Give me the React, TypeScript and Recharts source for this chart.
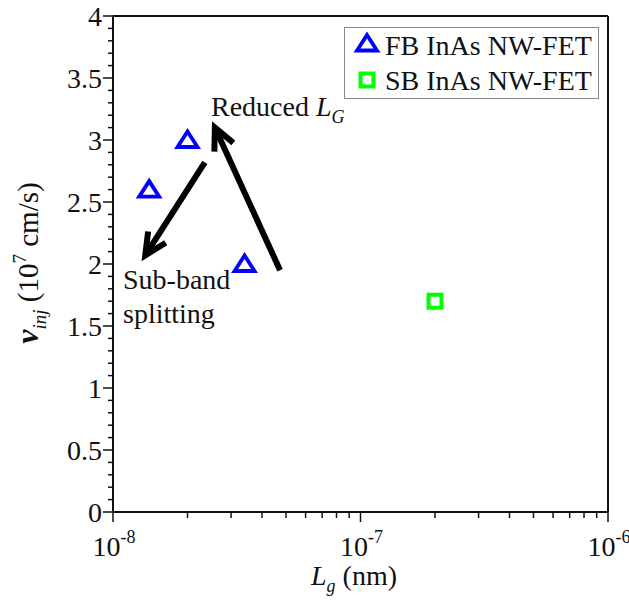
import React from 'react';
import { ScatterChart, Scatter, XAxis, YAxis, ReferenceLine, Legend } from 'recharts';

// gate length (m) and injection velocity (1e7 cm/s)
const fbLength = [1.4e-8, 2.0e-8, 3.4e-8];
const fbVinj = [2.6, 3.0, 2.0];
const sbLength = [2.0e-7];
const sbVinj = [1.7];

const xDecades = [1e-8, 1e-7, 1e-6];
const xExponents = ['-8', '-7', '-6'];
const xMinor = [2, 3, 4, 5, 6, 7, 8, 9];
const yMajor = [0, 0.5, 1, 1.5, 2, 2.5, 3, 3.5, 4];

// arrow annotations, in data units
const arrowFromX = [2.35e-8, 4.73e-8];
const arrowFromY = [2.82, 1.95];
const arrowToX = [1.35e-8, 2.58e-8];
const arrowToY = [2.07, 3.1];

const fbData = fbLength.map((x, i) => ({ x, y: fbVinj[i] }));
const sbData = sbLength.map((x, i) => ({ x, y: sbVinj[i] }));
const xTicks = [
  ...xDecades,
  ...xMinor.map((m) => m * 1e-8),
  ...xMinor.map((m) => m * 1e-7),
];
const yTicks = Array.from({ length: 41 }, (_, i) => i / 10);

const FONT = '"Liberation Serif", "Times New Roman", serif';
const BLUE = '#0000ff';
const GREEN = '#00ff00';
const AXIS = '#111';

const isDecade = (v: number) => xDecades.some((d) => Math.abs(d - v) / d < 1e-6);
const isYMajor = (v: number) => yMajor.some((m) => Math.abs(m - v) < 1e-6);

const Triangle = ({ cx, cy }: any) => (
  <path
    d={`M${cx},${cy - 8.5} L${cx + 10},${cy + 7} L${cx - 10},${cy + 7} Z`}
    fill="none"
    stroke={BLUE}
    strokeWidth={3.8}
  />
);

const Square = ({ cx, cy }: any) => (
  <rect x={cx - 6.5} y={cy - 6.5} width={13} height={13} fill="none" stroke={GREEN} strokeWidth={4} />
);

const BottomTick = ({ x, y, payload }: any) => {
  const major = isDecade(payload.value);
  const idx = xDecades.findIndex((d) => Math.abs(d - payload.value) / d < 1e-6);
  return (
    <g>
      <line x1={x} y1={y} x2={x} y2={y + (major ? 10 : 6)} stroke={AXIS} strokeWidth={1.5} />
      {major && (
        <text x={x + 1} y={y + 44} textAnchor="middle" fontSize={28} fontFamily={FONT} fill="#111">
          10
          <tspan fontSize={18} dy={-13}>
            {xExponents[idx]}
          </tspan>
        </text>
      )}
    </g>
  );
};

const TopTick = ({ x, y, payload }: any) => {
  const major = isDecade(payload.value);
  return <line x1={x} y1={y} x2={x} y2={y - (major ? 10 : 5)} stroke={AXIS} strokeWidth={1.5} />;
};

const LeftTick = ({ x, y, payload }: any) => {
  const major = isYMajor(payload.value);
  return (
    <g>
      <line x1={x} y1={y} x2={x - (major ? 10 : 5)} y2={y} stroke={AXIS} strokeWidth={1.5} />
      {major && (
        <text x={x - 11} y={y} dy="0.35em" textAnchor="end" fontSize={28} fontFamily={FONT} fill="#111">
          {String(payload.value)}
        </text>
      )}
    </g>
  );
};

const RightTick = ({ x, y, payload }: any) => {
  const major = isYMajor(payload.value);
  return <line x1={x} y1={y} x2={x + (major ? 10 : 5)} y2={y} stroke={AXIS} strokeWidth={1.5} />;
};

const Arrow = ({ x1, y1, x2, y2 }: any) => {
  const ang = Math.atan2(y2 - y1, x2 - x1);
  const len = 24;
  const spread = 0.45;
  const ax = x2 - len * Math.cos(ang - spread);
  const ay = y2 - len * Math.sin(ang - spread);
  const bx = x2 - len * Math.cos(ang + spread);
  const by = y2 - len * Math.sin(ang + spread);
  return (
    <g>
      <line x1={x1} y1={y1} x2={x2} y2={y2} stroke="#000" strokeWidth={6} />
      <polyline points={`${ax},${ay} ${x2},${y2} ${bx},${by}`} fill="none" stroke="#000" strokeWidth={6} />
    </g>
  );
};

const LegendBox = () => (
  <svg width={255} height={72} style={{ display: 'block' }}>
    <rect x={0.5} y={0.5} width={254} height={71} fill="#fff" stroke="#888" strokeWidth={1} />
    <Triangle cx={23} cy={16.5} />
    <text x={41} y={28} fontSize={28} fontFamily={FONT} fill="#111">
      FB InAs NW-FET
    </text>
    <Square cx={23} cy={53} />
    <text x={41} y={63} fontSize={28} fontFamily={FONT} fill="#111">
      SB InAs NW-FET
    </text>
  </svg>
);

export default function App() {
  return (
    <div style={{ position: 'absolute', left: 0, top: 0 }}>
      <ScatterChart width={629} height={603} margin={{ top: 15, right: 20, bottom: 90, left: 112 }}>
        <XAxis
          xAxisId="bottom"
          dataKey="x"
          type="number"
          scale="log"
          domain={[1e-8, 1e-6]}
          allowDataOverflow
          ticks={xTicks}
          interval={0}
          height={1}
          tickSize={0}
          tickMargin={0}
          tickLine={false}
          tick={<BottomTick />}
          axisLine={{ stroke: AXIS, strokeWidth: 2 }}
        />
        <XAxis
          xAxisId="top"
          orientation="top"
          type="number"
          scale="log"
          domain={[1e-8, 1e-6]}
          allowDataOverflow
          ticks={xTicks}
          interval={0}
          height={1}
          tickSize={0}
          tickMargin={0}
          tickLine={false}
          tick={<TopTick />}
          axisLine={{ stroke: AXIS, strokeWidth: 2 }}
        />
        <YAxis
          yAxisId="left"
          dataKey="y"
          type="number"
          domain={[0, 4]}
          ticks={yTicks}
          interval={0}
          width={1}
          tickSize={0}
          tickMargin={0}
          tickLine={false}
          tick={<LeftTick />}
          axisLine={{ stroke: AXIS, strokeWidth: 2 }}
        />
        <YAxis
          yAxisId="right"
          orientation="right"
          type="number"
          domain={[0, 4]}
          ticks={yTicks}
          interval={0}
          width={1}
          tickSize={0}
          tickMargin={0}
          tickLine={false}
          tick={<RightTick />}
          axisLine={{ stroke: AXIS, strokeWidth: 2 }}
        />
        {arrowFromX.map((fx, i) => (
          <ReferenceLine
            key={`arrow-${i}`}
            xAxisId="bottom"
            yAxisId="left"
            segment={[
              { x: fx, y: arrowFromY[i] },
              { x: arrowToX[i], y: arrowToY[i] },
            ]}
            ifOverflow="visible"
            shape={(p: any) => <Arrow {...p} />}
          />
        ))}
        <Scatter
          name="FB InAs NW-FET"
          data={fbData}
          xAxisId="bottom"
          yAxisId="left"
          shape={(p: any) => <Triangle {...p} />}
          isAnimationActive={false}
        />
        <Scatter
          name="SB InAs NW-FET"
          data={sbData}
          xAxisId="bottom"
          yAxisId="left"
          shape={(p: any) => <Square {...p} />}
          isAnimationActive={false}
        />
        <Legend
          layout="vertical"
          align="center"
          verticalAlign="middle"
          wrapperStyle={{ left: 344, top: 27, width: 255, height: 72 }}
          content={() => <LegendBox />}
        />
        <text x={211} y={116} fontSize={28} fontFamily={FONT} fill="#111">
          Reduced{' '}
          <tspan fontStyle="italic">L</tspan>
          <tspan fontStyle="italic" fontSize={18} dy={7}>
            G
          </tspan>
        </text>
        <text x={123} y={289} fontSize={28} fontFamily={FONT} fill="#111">
          Sub-band
        </text>
        <text x={123} y={323} fontSize={28} fontFamily={FONT} fill="#111">
          splitting
        </text>
        <text transform="translate(38,263) rotate(-90)" textAnchor="middle" fontSize={29} fontFamily={FONT} fill="#111">
          <tspan fontStyle="italic" fontWeight="bold" fontSize={32}>
            v
          </tspan>
          <tspan fontStyle="italic" fontSize={19} dy={8}>
            inj
          </tspan>
          <tspan dy={-8}>{' (10'}</tspan>
          <tspan fontSize={19} dy={-12}>
            7
          </tspan>
          <tspan dy={12}>{' cm/s)'}</tspan>
        </text>
        <text x={354} y={585} textAnchor="middle" fontSize={28} fontFamily={FONT} fill="#111">
          <tspan fontStyle="italic">L</tspan>
          <tspan fontStyle="italic" fontSize={18} dy={7}>
            g
          </tspan>
          <tspan dy={-7}>{' (nm)'}</tspan>
        </text>
      </ScatterChart>
    </div>
  );
}
